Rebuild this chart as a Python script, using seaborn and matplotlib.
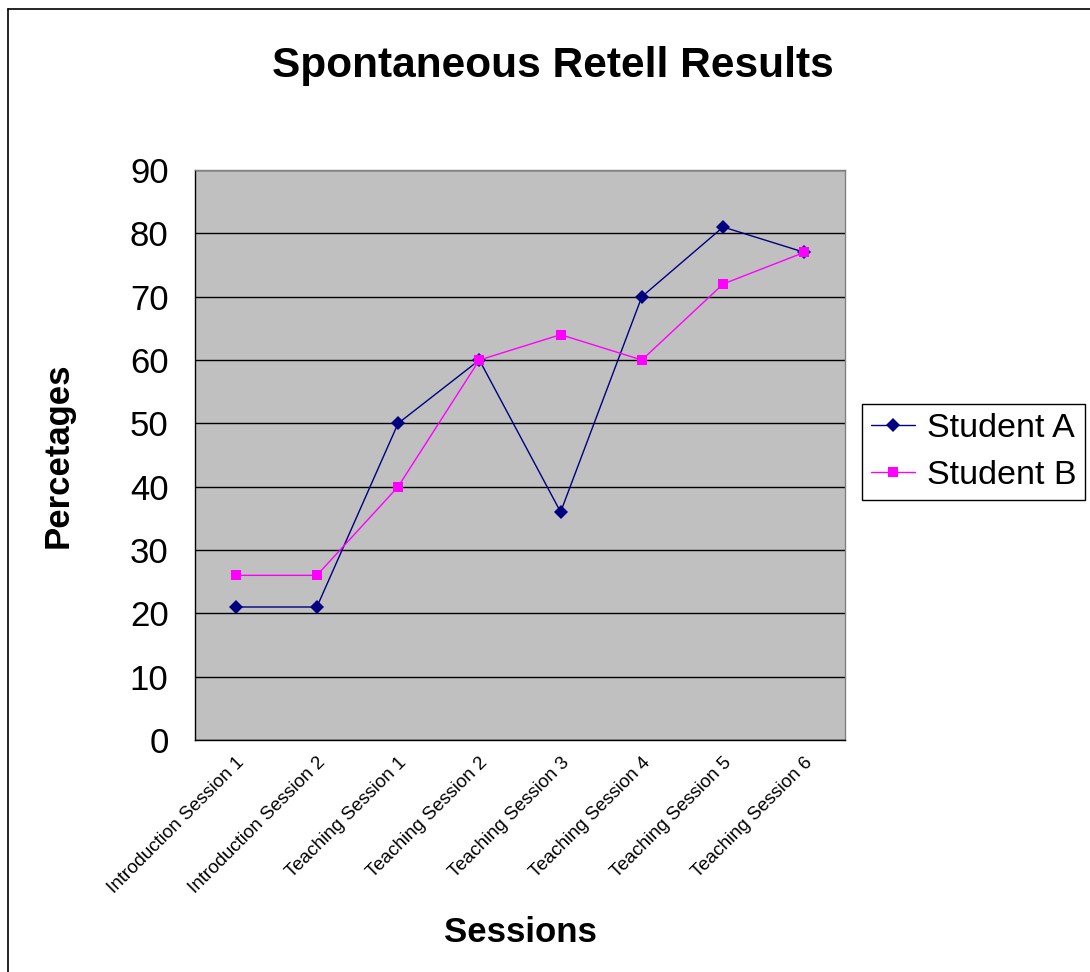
import matplotlib
matplotlib.use("Agg")
import matplotlib.pyplot as plt
from matplotlib.lines import Line2D
from matplotlib.ticker import FixedLocator, NullFormatter
import seaborn as sns
import pandas as pd

sessions = ["Introduction Session 1", "Introduction Session 2",
            "Teaching Session 1", "Teaching Session 2", "Teaching Session 3",
            "Teaching Session 4", "Teaching Session 5", "Teaching Session 6"]
student_a = [21, 21, 50, 60, 36, 70, 81, 77]
student_b = [26, 26, 40, 60, 64, 60, 72, 77]
series_names = ["Student A", "Student B"]
y_ticks = [0, 10, 20, 30, 40, 50, 60, 70, 80, 90]

df = pd.DataFrame({
    "pos": list(range(len(sessions))) * 2,
    "value": student_a + student_b,
    "student": [series_names[0]] * len(sessions) + [series_names[1]] * len(sessions),
})

sns.set_style("white")
plt.rcParams["font.family"] = ["Liberation Sans", "DejaVu Sans"]
for key in ["text.color", "axes.labelcolor", "xtick.color", "ytick.color"]:
    plt.rcParams[key] = "black"

fig = plt.figure(figsize=(10.9, 9.72), dpi=100)
ax = fig.add_axes([195 / 1090, 1 - 740 / 972, 650 / 1090, 570 / 972])
ax.set_facecolor("#C0C0C0")

palette = {"Student A": "#000080", "Student B": "#FF00FF"}
sns.lineplot(data=df, x="pos", y="value", hue="student", style="student",
             palette=palette, markers={"Student A": "D", "Student B": "s"},
             dashes=False, sort=False, linewidth=1.0, markersize=7.5,
             markeredgewidth=0, ax=ax)

ax.set_xlim(-0.5, len(sessions) - 0.5)
ax.set_ylim(0, 90)
ax.set_yticks(y_ticks)
ax.set_yticklabels([str(t) for t in y_ticks], fontsize=25)
ax.grid(axis="y", color="black", linewidth=1.0)
ax.set_axisbelow(True)

# category boundaries carry the tick marks, centres carry the labels
ax.xaxis.set_major_locator(FixedLocator([i - 0.5 for i in range(len(sessions) + 1)]))
ax.xaxis.set_major_formatter(NullFormatter())
ax.xaxis.set_minor_locator(FixedLocator(list(range(len(sessions)))))
ax.set_xticklabels(sessions, minor=True, rotation=45, ha="right",
                   rotation_mode="anchor", fontsize=13.5)
ax.tick_params(axis="x", which="major", direction="out", length=5, width=1, color="black")
ax.tick_params(axis="x", which="minor", length=0, pad=10)
ax.tick_params(axis="y", direction="out", length=8, width=1, color="black", pad=11)

for side in ["left", "bottom"]:
    ax.spines[side].set_color("black")
    ax.spines[side].set_linewidth(1.0)
for side in ["top", "right"]:
    ax.spines[side].set_color("#808080")
    ax.spines[side].set_linewidth(1.0)

ax.set_xlabel("Sessions", fontsize=25, fontweight="bold", labelpad=14)
ax.set_ylabel("Percetages", fontsize=25, fontweight="bold", labelpad=40)
fig.text(553 / 1090, 1 - 66 / 972, "Spontaneous Retell Results", fontsize=30.5,
         fontweight="bold", ha="center", va="center")

handles, labels = ax.get_legend_handles_labels()
leg = ax.legend(handles, labels, loc="center left",
                bbox_to_anchor=(862 / 1090, 1 - 452 / 972),
                bbox_transform=fig.transFigure, fontsize=24.5, frameon=True,
                fancybox=False, edgecolor="black", framealpha=1,
                handlelength=1.3, handletextpad=0.35, borderpad=0.25,
                labelspacing=0.47, borderaxespad=0)
leg.get_frame().set_linewidth(1.0)

# outer chart border (left and top edges)
fig.add_artist(Line2D([8 / 1090, 8 / 1090], [0, 1 - 9 / 972], color="black",
                      linewidth=1.2, transform=fig.transFigure))
fig.add_artist(Line2D([8 / 1090, 1], [1 - 9 / 972, 1 - 9 / 972], color="black",
                      linewidth=1.2, transform=fig.transFigure))

fig.savefig("out.png", dpi=100)
